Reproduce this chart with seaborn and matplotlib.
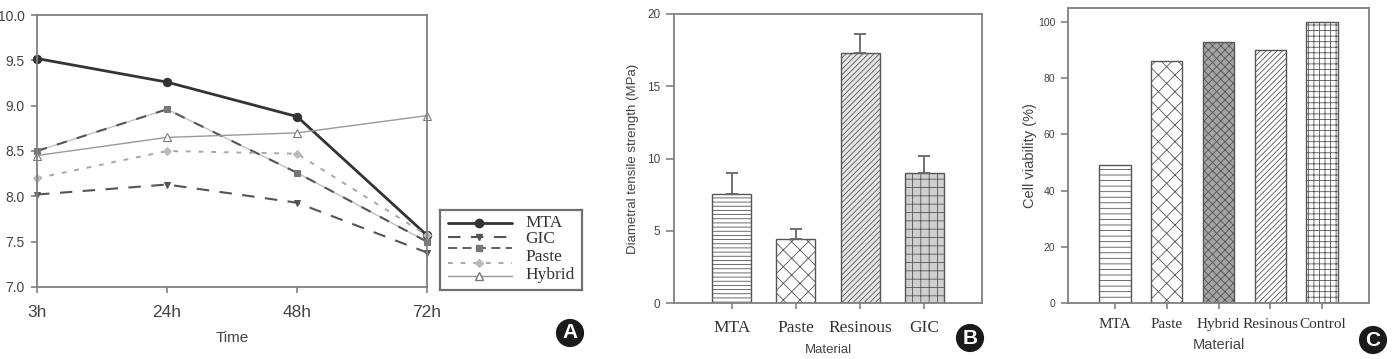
import matplotlib
matplotlib.use("Agg")
import matplotlib.pyplot as plt
import seaborn as sns
import numpy as np

# ---- data ----
time_labels = ["3h", "24h", "48h", "72h"]
mta_vals = [9.52, 9.26, 8.88, 7.57]
gic_vals = [8.02, 8.13, 7.93, 7.38]
paste_sq_vals = [8.50, 8.96, 8.26, 7.50]
paste_dm_vals = [8.20, 8.50, 8.47, 7.57]
hybrid_vals = [8.45, 8.65, 8.70, 8.89]
legend_labels = ["MTA", "GIC", "Paste", "Hybrid"]

dts_materials = ["MTA", "Paste", "Resinous", "GIC"]
dts_means = [7.55, 4.4, 17.3, 9.0]
dts_err = [1.45, 0.7, 1.3, 1.15]

via_materials = ["MTA", "Paste", "Hybrid", "Resinous", "Control"]
via_values = [49, 86, 93, 90, 100]

sns.set_style("ticks")
plt.rcParams["font.family"] = ["Liberation Sans", "DejaVu Sans"]
plt.rcParams["hatch.linewidth"] = 0.6
plt.rcParams["hatch.color"] = "#555555"

SPINE = "#808080"
TXT = "#444444"
W, H = 1392, 359

fig = plt.figure(figsize=(13.92, 3.59), dpi=100)


def px_axes(x0, y0, x1, y1):
    return fig.add_axes([x0 / W, 1 - y1 / H, (x1 - x0) / W, (y1 - y0) / H])


def style_frame(ax):
    for s in ax.spines.values():
        s.set_visible(True)
        s.set_color(SPINE)
        s.set_linewidth(1.3)
    ax.tick_params(colors=SPINE, labelcolor=TXT, length=4, width=1.2)


# ---- Panel A ----
axA = px_axes(37, 15, 427, 287)
xpos = np.arange(len(time_labels))
sns.lineplot(x=xpos, y=mta_vals, ax=axA, color="#333333", lw=2, marker="o",
             ms=6, mec="#333333", clip_on=False)
sns.lineplot(x=xpos, y=gic_vals, ax=axA, color="#555555", lw=1.5,
             linestyle=(0, (6, 5)), marker="v", ms=5, mec="#555555", clip_on=False)
sns.lineplot(x=xpos, y=paste_sq_vals, ax=axA, color="#c0c0c0", lw=1, clip_on=False)
sns.lineplot(x=xpos, y=paste_sq_vals, ax=axA, color="#555555", lw=1.5,
             linestyle=(0, (5, 5)), marker="s", ms=5, mfc="#777777", mec="#777777",
             clip_on=False)
sns.lineplot(x=xpos, y=paste_dm_vals, ax=axA, color="#a8a8a8", lw=1.4,
             linestyle=(0, (2.5, 4)), marker="D", ms=4, mfc="#bbbbbb",
             mec="#bbbbbb", clip_on=False)
sns.lineplot(x=xpos, y=hybrid_vals, ax=axA, color="#999999", lw=1, marker="^",
             ms=6, mfc="white", mec="#777777", clip_on=False)
axA.set_xlim(0, 3)
axA.set_ylim(7.0, 10.0)
axA.set_xticks(xpos)
axA.set_xticklabels(time_labels, fontsize=12.5)
axA.set_yticks([7.0, 7.5, 8.0, 8.5, 9.0, 9.5, 10.0])
axA.set_yticklabels(["7.0", "7.5", "8.0", "8.5", "9.0", "9.5", "10.0"], fontsize=10)
style_frame(axA)
axA.tick_params(axis="x", pad=9)
axA.tick_params(axis="y", pad=5)
axA.set_xlabel("Time", fontsize=11, color=TXT, labelpad=8)
axA.set_ylabel("")

# legend drawn in its own box
lax = px_axes(440, 210, 582, 290)
lax.set_xlim(0, 1)
lax.set_ylim(0, 1)
lax.set_xticks([])
lax.set_yticks([])
for s in lax.spines.values():
    s.set_color("#707070")
    s.set_linewidth(1.6)
hx = [0.056, 0.507]
mx = 0.275
handles = [
    (0.84, dict(color="#333333", lw=2), dict(marker="o", ms=6, color="#333333")),
    (0.66, dict(color="#555555", lw=1.5, linestyle=(0, (6, 5))), dict(marker="v", ms=5, color="#555555")),
    (0.525, dict(color="#555555", lw=1.3, linestyle=(0, (5, 3))), dict(marker="s", ms=5, color="#777777")),
    (0.34, dict(color="#a8a8a8", lw=1.4, linestyle=(0, (2.5, 4))), dict(marker="D", ms=4, color="#bbbbbb")),
    (0.175, dict(color="#999999", lw=1), dict(marker="^", ms=6, mfc="white", mec="#777777")),
]
for yy, lkw, mkw in handles:
    lax.plot(hx, [yy, yy], **lkw)
    lax.plot([mx], [yy], linestyle="none", **mkw)
for lab, yy in zip(legend_labels, [0.84, 0.64, 0.41, 0.19]):
    lax.text(0.60, yy, lab, va="center", ha="left", fontsize=12.5,
             family="Liberation Serif", color="#333333")

# ---- Panel B ----
axB = px_axes(674, 14, 982, 303)
sns.barplot(x=dts_materials, y=dts_means, ax=axB, color="white",
            edgecolor="#555555", linewidth=1, width=0.61)
b_hatch = ["----", "xx", "//////", "++"]
b_face = ["white", "white", "#e6e6e6", "#cfcfcf"]
for p, h, fc in zip(axB.patches, b_hatch, b_face):
    p.set_hatch(h)
    p.set_facecolor(fc)
    p.set_edgecolor("#555555")
axB.errorbar(np.arange(len(dts_materials)), dts_means,
             yerr=[np.zeros(len(dts_err)), dts_err], fmt="none",
             ecolor="#666666", elinewidth=1.3, capsize=4, capthick=1.3)
axB.set_xlim(-0.9, 3.9)
axB.set_ylim(0, 20)
axB.set_yticks([0, 5, 10, 15, 20])
style_frame(axB)
axB.tick_params(axis="y", labelsize=8.5, length=6, pad=4)
axB.tick_params(axis="x", labelsize=12.5, pad=8)
for t in axB.get_xticklabels():
    t.set_family("Liberation Serif")
    t.set_color("#333333")
axB.set_xlabel("Material", fontsize=9.5, color=TXT, labelpad=6)
axB.set_ylabel("Diametral tensile strength (MPa)", fontsize=9.5, color=TXT, labelpad=6)

# ---- Panel C ----
axC = px_axes(1068, 8, 1369, 303)
sns.barplot(x=via_materials, y=via_values, ax=axC, color="white",
            edgecolor="#555555", linewidth=1, width=0.61)
c_hatch = ["---", "xx", "xxxx", "//////", "+++"]
c_face = ["white", "white", "#a4a4a4", "white", "white"]
for p, h, fc in zip(axC.patches, c_hatch, c_face):
    p.set_hatch(h)
    p.set_facecolor(fc)
    p.set_edgecolor("#555555")
axC.set_xlim(-0.9, 4.9)
axC.set_ylim(0, 105)
axC.set_yticks([0, 20, 40, 60, 80, 100])
style_frame(axC)
axC.tick_params(axis="y", labelsize=7.5, length=5, pad=4)
axC.tick_params(axis="x", labelsize=11, pad=7)
for t in axC.get_xticklabels():
    t.set_family("Liberation Serif")
    t.set_color("#333333")
axC.set_xlabel("Material", fontsize=10.5, color=TXT, labelpad=5)
axC.set_ylabel("Cell viability (%)", fontsize=10.5, color=TXT, labelpad=1)

# ---- panel letters ----
for letter, cx, cy in [("A", 570, 333), ("B", 970, 338), ("C", 1373, 340)]:
    fig.text(cx / W, 1 - cy / H, letter, ha="center", va="center", fontsize=15,
             fontweight="bold", color="white",
             bbox=dict(boxstyle="circle,pad=0.22", fc="#1a1a1a", ec="none"))

fig.savefig("out.png", dpi=100)
